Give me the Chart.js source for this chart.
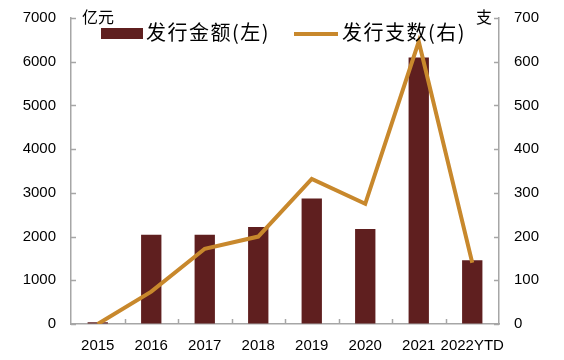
<!DOCTYPE html>
<html>
<head>
<meta charset="utf-8">
<script src="https://cdn.jsdelivr.net/npm/chart.js@4"></script>
<style>
  body { margin: 0; background: #fff; }
  #wrap { position: relative; width: 564px; height: 360px; }
  .txt { position: absolute; font-family: "Noto Sans CJK SC", sans-serif; color: #000; white-space: nowrap; line-height: 1; }
  .unit { font-size: 16px; top: 8px; }
  .leg { font-size: 20px; top: 22px; letter-spacing: 1.5px; }
  .sw { position: absolute; }
</style>
</head>
<body>
<div id="wrap">
  <canvas id="chart" width="564" height="360"></canvas>
  <div class="txt unit" style="left:82px;">亿元</div>
  <div class="txt unit" style="left:476px;">支</div>
  <div class="sw" style="left:101px; top:28px; width:42px; height:11px; background:#5f1f1f;"></div>
  <div class="txt leg" style="left:146px;">发行金额(左)</div>
  <div class="sw" style="left:294px; top:32px; width:44px; height:4px; background:#c8882c;"></div>
  <div class="txt leg" style="left:342px;">发行支数(右)</div>
</div>
<script>
// categories and values
const years = ["2015", "2016", "2017", "2018", "2019", "2020", "2021", "2022YTD"];
const amount = [40, 2040, 2040, 2220, 2870, 2175, 6095, 1460];   // 亿元, left axis
const count = [0, 74, 172, 200, 332, 275, 646, 140];               // 支, right axis

const axisColor = "#a6a6a6";

// inward tick marks like the original
const innerTicks = {
  id: "innerTicks",
  afterDraw(chart) {
    const ctx = chart.ctx;
    const { y, y1 } = chart.scales;
    const area = chart.chartArea;
    ctx.save();
    ctx.strokeStyle = axisColor;
    ctx.lineWidth = 1.5;
    ctx.beginPath();
    y.ticks.forEach(t => {
      const py = Math.round(y.getPixelForValue(t.value)) + 0.5;
      ctx.moveTo(area.left, py); ctx.lineTo(area.left + 5, py);
    });
    y1.ticks.forEach(t => {
      const py = Math.round(y1.getPixelForValue(t.value)) + 0.5;
      ctx.moveTo(area.right, py); ctx.lineTo(area.right - 5, py);
    });
    const step = (area.right - area.left) / years.length;
    for (let i = 1; i < years.length; i++) {
      const px = Math.round(area.left + step * i) + 0.5;
      ctx.moveTo(px, area.bottom); ctx.lineTo(px, area.bottom - 5);
    }
    ctx.stroke();
    ctx.restore();
  }
};

const tickFont = { family: "'Liberation Sans', Arial, sans-serif", size: 15 };
const plain = v => String(v);

new Chart(document.getElementById("chart"), {
  type: "bar",
  data: {
    labels: years,
    datasets: [
      {
        label: "发行金额(左)",
        data: amount,
        backgroundColor: "#5f1f1f",
        yAxisID: "y",
        barPercentage: 0.38,
        categoryPercentage: 1,
        order: 2
      },
      {
        type: "line",
        label: "发行支数(右)",
        data: count,
        borderColor: "#c8882c",
        borderWidth: 4,
        pointRadius: 0,
        tension: 0,
        yAxisID: "y1",
        order: 1
      }
    ]
  },
  options: {
    responsive: false,
    animation: false,
    layout: { padding: { top: 18, left: 0, right: 0, bottom: 0 } },
    plugins: { legend: { display: false }, tooltip: { enabled: false } },
    scales: {
      x: {
        grid: { display: false },
        border: { color: axisColor, width: 1.5 },
        ticks: { color: "#000", font: tickFont, padding: 5, maxRotation: 0, autoSkip: false },
        afterFit(s) { s.height = 36; }
      },
      y: {
        position: "left",
        min: 0, max: 7000,
        grid: { display: true, drawOnChartArea: false, drawTicks: false },
        border: { color: axisColor, width: 1.5 },
        ticks: { stepSize: 1000, color: "#000", font: tickFont, padding: 15, callback: plain },
        afterFit(s) { s.width = 71; s.paddingTop = 0; }
      },
      y1: {
        position: "right",
        min: 0, max: 700,
        grid: { display: true, drawOnChartArea: false, drawTicks: false },
        border: { color: axisColor, width: 1.5 },
        ticks: { stepSize: 100, color: "#000", font: tickFont, padding: 15, callback: plain },
        afterFit(s) { s.width = 65; s.paddingTop = 0; }
      }
    }
  },
  plugins: [innerTicks]
});
</script>
</body>
</html>
